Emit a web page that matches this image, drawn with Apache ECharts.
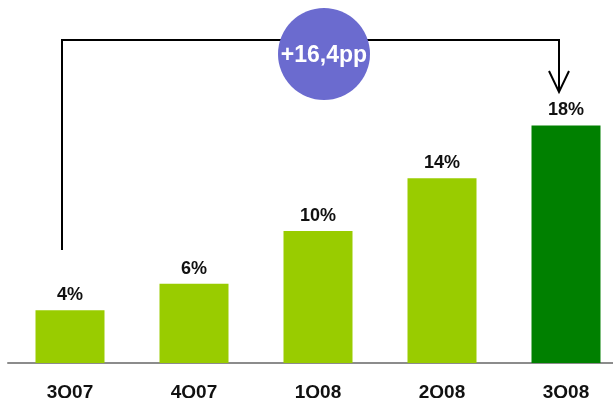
<!DOCTYPE html>
<html>
<head>
<meta charset="utf-8">
<script src="https://cdn.jsdelivr.net/npm/echarts@6/dist/echarts.min.js"></script>
<style>
  html, body { margin: 0; padding: 0; background: #fff; }
  #chart { width: 613px; height: 398px; }
</style>
</head>
<body>
<div id="chart"></div>
<script>
// Quarterly share, in percent
const quarters = ['3Q07', '4Q07', '1Q08', '2Q08', '3Q08'];
const shares = [4, 6, 10, 14, 18];
const changeLabel = '+16,4pp';

const FONT = '"Liberation Sans", Arial, Helvetica, sans-serif';
const LIGHT = '#99CC00';
const DARK = '#008000';

const chart = echarts.init(document.getElementById('chart'), null, { renderer: 'canvas' });

const barData = shares.map((v, i) => ({
  value: v,
  itemStyle: { color: i === shares.length - 1 ? DARK : LIGHT }
}));

chart.setOption({
  animation: false,
  backgroundColor: '#ffffff',
  grid: {
    left: 8, width: 620, top: 99, bottom: 35,
    containLabel: false,
    outerBoundsMode: 'none'
  },
  xAxis: {
    type: 'category',
    data: quarters,
    axisLine: { show: true, lineStyle: { color: '#8c8c8c', width: 2 } },
    axisTick: { show: false },
    axisLabel: {
      margin: 20,
      color: '#111',
      fontFamily: FONT,
      fontWeight: 'bold',
      fontSize: 19
    }
  },
  yAxis: {
    type: 'value',
    min: 0,
    max: 20,
    show: false,
    splitLine: { show: false }
  },
  series: [{
    type: 'bar',
    data: barData,
    barWidth: 69,
    label: {
      show: true,
      position: 'top',
      distance: 6,
      formatter: p => p.value + '%',
      color: '#111',
      fontFamily: FONT,
      fontWeight: 'bold',
      fontSize: 18
    }
  }]
});

// Bracket from the first quarter to the last one, with the change bubble on top
const firstX = chart.convertToPixel({ xAxisIndex: 0 }, 0) - 8;
const lastX = chart.convertToPixel({ xAxisIndex: 0 }, quarters.length - 1) - 7;
const topY = 40;
const leftBottom = 250;
const arrowTip = 92;

chart.setOption({
  graphic: [
    {
      type: 'polyline',
      z: 10,
      shape: { points: [[firstX, leftBottom], [firstX, topY], [lastX, topY], [lastX, arrowTip]] },
      style: { stroke: '#000', lineWidth: 2, fill: null }
    },
    {
      type: 'polyline',
      z: 10,
      shape: { points: [[lastX - 10, arrowTip - 21], [lastX, arrowTip], [lastX + 10, arrowTip - 21]] },
      style: { stroke: '#000', lineWidth: 2, fill: null }
    },
    {
      type: 'circle',
      z: 20,
      shape: { cx: 324, cy: 54, r: 46 },
      style: { fill: '#6B6BCF' }
    },
    {
      type: 'text',
      z: 30,
      x: 324,
      y: 56,
      style: {
        text: changeLabel,
        fill: '#ffffff',
        font: 'bold 23px ' + FONT,
        align: 'center',
        verticalAlign: 'middle'
      }
    }
  ]
});
</script>
</body>
</html>
